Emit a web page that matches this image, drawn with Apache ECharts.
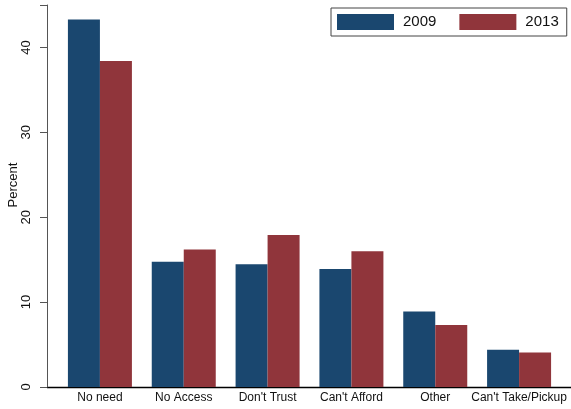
<!DOCTYPE html>
<html>
<head>
<meta charset="utf-8">
<script src="https://cdn.jsdelivr.net/npm/echarts@6/dist/echarts.min.js"></script>
<style>html,body{margin:0;padding:0;background:#fff}#c{width:571px;height:409px}</style>
</head>
<body>
<div id="c"></div>
<script>
var categories = ["No need", "No Access", "Don't Trust", "Can't Afford", "Other", "Can't Take/Pickup"];
var values2009 = [43.3, 14.75, 14.45, 13.9, 8.9, 4.4];
var values2013 = [38.4, 16.2, 17.9, 16.0, 7.3, 4.05];
var yTicks = [0, 10, 20, 30, 40];

var chart = echarts.init(document.getElementById('c'), null, {renderer: 'canvas'});
var font = 'Liberation Sans, Arial, sans-serif';
chart.setOption({
  animation: false,
  backgroundColor: '#fff',
  textStyle: {fontFamily: font},
  grid: {left: 58, right: 10, top: 5, bottom: 22, containLabel: false, outerBoundsMode: 'none'},
  legend: {
    left: 331, top: 8,
    padding: [6, 8, 6, 6],
    borderColor: '#444', borderWidth: 1,
    itemWidth: 57, itemHeight: 16, itemGap: 23,
    icon: 'rect',
    textStyle: {fontSize: 15, color: '#111', fontFamily: font, padding: [0, 0, 0, 4]},
    data: ['2009', '2013']
  },
  xAxis: {
    type: 'category',
    data: categories,
    axisLine: {show: false},
    axisTick: {show: false},
    axisLabel: {fontSize: 12, color: '#111', margin: 5, interval: 0}
  },
  yAxis: {
    type: 'value',
    min: 0, max: 45, interval: 10,
    offset: 11,
    name: 'Percent',
    nameLocation: 'middle',
    nameGap: 27,
    nameMoveOverlap: false,
    nameRotate: 90,
    nameTextStyle: {fontSize: 13, color: '#111', padding: [0, 0, 0, 22]},
    splitLine: {show: false},
    axisLine: {show: true, lineStyle: {color: '#555', width: 1}},
    axisTick: {show: true, length: 7, lineStyle: {color: '#555'}},
    axisLabel: {
      fontSize: 13, color: '#111', rotate: 90, margin: 14,
      formatter: function (v) { return yTicks.indexOf(v) >= 0 ? String(v) : ''; }
    }
  },
  series: [
    {name: '2009', type: 'bar', data: values2009, barWidth: 32, barGap: '0%',
     itemStyle: {color: '#1a476f'}},
    {name: '2013', type: 'bar', data: values2013, barWidth: 32, barGap: '0%',
     itemStyle: {color: '#90353b'}}
  ]
});
var y0 = chart.convertToPixel({yAxisIndex: 0}, 0);
chart.setOption({
  graphic: [{
    type: 'line', silent: true,
    shape: {x1: 47, y1: Math.round(y0) + 0.5, x2: 571, y2: Math.round(y0) + 0.5},
    style: {stroke: '#000', lineWidth: 1.5}
  }]
});
</script>
</body>
</html>
